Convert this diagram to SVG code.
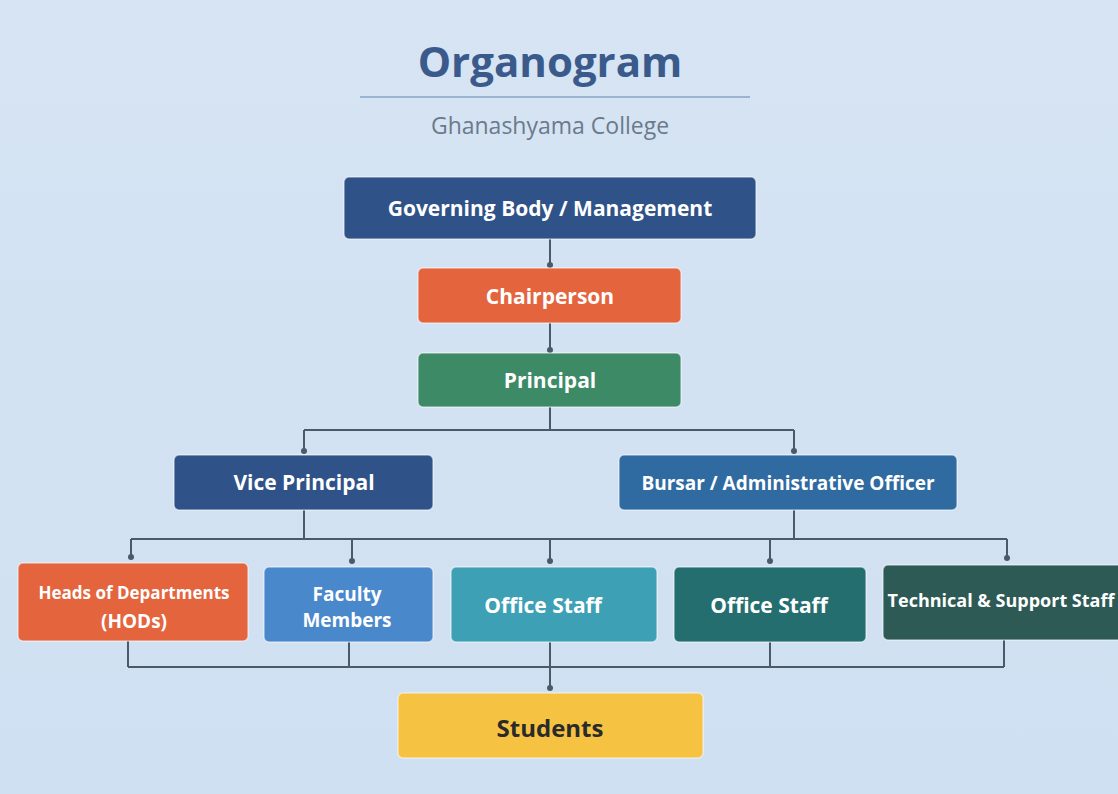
<svg xmlns="http://www.w3.org/2000/svg" width="1118" height="794" viewBox="0 0 1118 794">
<defs><linearGradient id="bg" x1="0" y1="0" x2="0" y2="1"><stop offset="0" stop-color="#d6e4f3"/><stop offset="1" stop-color="#cfe0f2"/></linearGradient></defs>
<style>
.t{font-family:"Open Sans","Liberation Sans",sans-serif;font-weight:bold;fill:#fff;text-anchor:middle;dominant-baseline:central}
.b{stroke:#fff;stroke-opacity:.5;stroke-width:1.5}
.c{fill:none;stroke:#4a5a6a;stroke-width:2}
.d{fill:#4a5a6a}
</style>
<rect width="1118" height="794" fill="url(#bg)"/>
<text x="550" y="60" font-family="'Open Sans','Liberation Sans',sans-serif" font-weight="bold" font-size="42" fill="#3a5a8c" text-anchor="middle" dominant-baseline="central">Organogram</text>
<line x1="360" y1="97" x2="750" y2="97" stroke="#9ab4d2" stroke-width="2"/>
<text x="550" y="125" font-family="'Open Sans','Liberation Sans',sans-serif" font-size="23" fill="#6b7a8c" text-anchor="middle" dominant-baseline="central">Ghanashyama College</text>
<g id="connectors">
<path class="c" d="M550 239V268M550 323V353M550 407V430M304 430H794M304 430V450M794 430V450M304 510V539M794 510V539M131 539H1007M131 539V557M352 539V561M550 539V561M770 539V561M1007 539V558M128 641V667M349 642V667M550 642V688M770 642V667M1004 640V667M128 667H1004"/>
<g class="d"><circle cx="550" cy="265" r="3"/><circle cx="550" cy="350" r="3"/><circle cx="304" cy="451" r="3"/><circle cx="794" cy="451" r="3"/><circle cx="131" cy="557" r="3"/><circle cx="352" cy="561" r="3"/><circle cx="550" cy="561" r="3"/><circle cx="770" cy="561" r="3"/><circle cx="1007" cy="558" r="3"/><circle cx="550" cy="688" r="3"/></g>
</g>
<g id="governing"><rect class="b" x="344" y="177" width="412" height="62" rx="5" fill="#2f5288"/><text class="t" x="550" y="208" font-size="21">Governing Body / Management</text></g>
<g id="chair"><rect class="b" x="418" y="268" width="263" height="55" rx="5" fill="#e4643e"/><text class="t" x="550" y="296" font-size="21">Chairperson</text></g>
<g id="principal"><rect class="b" x="418" y="353" width="263" height="54" rx="5" fill="#3d8a66"/><text class="t" x="550" y="380" font-size="21">Principal</text></g>
<g id="vp"><rect class="b" x="174" y="455" width="259" height="55" rx="5" fill="#2f5288"/><text class="t" x="304" y="482" font-size="21">Vice Principal</text></g>
<g id="bursar"><rect class="b" x="619" y="455" width="338" height="55" rx="5" fill="#2f6aa0"/><text class="t" x="788" y="483" font-size="19" font-weight="600">Bursar / Administrative Officer</text></g>
<g id="hods"><rect class="b" x="18" y="563" width="230" height="78" rx="5" fill="#e4643e"/><text class="t" x="134" y="592" font-size="17" font-weight="600">Heads of Departments</text><text class="t" x="134" y="621" font-size="19" font-weight="600">(HODs)</text></g>
<g id="faculty"><rect class="b" x="264" y="567" width="169" height="75" rx="5" fill="#4a88cc"/><text class="t" x="347" y="594" font-size="19" font-weight="600">Faculty</text><text class="t" x="347" y="620" font-size="19" font-weight="600">Members</text></g>
<g id="office1"><rect class="b" x="451" y="567" width="206" height="75" rx="5" fill="#3ea0b4"/><text class="t" x="543" y="605" font-size="21">Office Staff</text></g>
<g id="office2"><rect class="b" x="674" y="567" width="192" height="75" rx="5" fill="#256e70"/><text class="t" x="769" y="605" font-size="21">Office Staff</text></g>
<g id="tech"><rect class="b" x="883" y="565" width="240" height="75" rx="5" fill="#2d5a55"/><text class="t" x="1001" y="600" font-size="18" font-weight="600">Technical &amp; Support Staff</text></g>
<g id="students"><rect class="b" x="398" y="693" width="305" height="65" rx="5" fill="#f5c242"/><text class="t" x="550" y="727" font-size="24" style="fill:#2a2a2a">Students</text></g>
</svg>
